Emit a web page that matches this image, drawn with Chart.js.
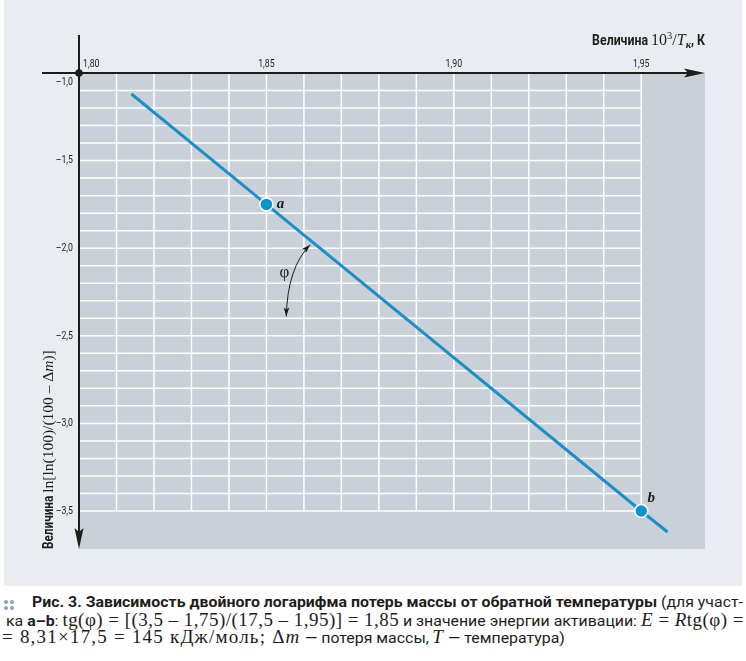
<!DOCTYPE html>
<html lang="ru">
<head>
<meta charset="utf-8">
<script src="https://cdn.jsdelivr.net/npm/chart.js@4.4.1/dist/chart.umd.min.js"></script>
<style>
  body { margin: 0; background: #fff; width: 746px; height: 661px; overflow: hidden; }
  #wrap { position: relative; width: 746px; height: 661px; }
  canvas { display: block; }
  .cap {
    position: absolute; white-space: nowrap;
    font-family: Roboto, 'Noto Sans', sans-serif; font-size: 15.5px; line-height: 17px; color: #1d1d1b;
  }
  .cap .n { display: inline-block; white-space: pre; }
  .cap .ni { display: inline-block; white-space: pre; transform-origin: 0 50%; }
  .cap .m { font-family: 'Liberation Serif', 'DejaVu Serif', serif; font-size: 19px; white-space: pre; }
  .cap b { font-weight: 700; }
  .dots { position: absolute; left: 4px; top: 600px; width: 10px; height: 10px; }
  .dots span { position: absolute; width: 4px; height: 4px; border-radius: 50%; background: #8aa1bf; }
</style>
</head>
<body>
<div id="wrap">
  <canvas id="chart" width="746" height="590"></canvas>
  <div class="dots"><span style="left:0;top:0"></span><span style="left:6px;top:0"></span><span style="left:0;top:6px"></span><span style="left:6px;top:6px"></span></div>
  <div class="cap" data-w="711" style="left:32px;top:594px"><span class="n"><b>Рис. 3. Зависимость двойного логарифма потерь массы от обратной температуры</b> (для участ-</span></div>
  <div class="cap" data-w="738" style="left:6px;top:611px"><span class="n">ка <b>a–b</b>: </span><span class="m">tg(φ) = [(3,5 – 1,75)/(17,5 – 1,95)] = 1,85</span><span class="n"> и значение энергии активации: </span><span class="m"><i>E</i> = <i>R</i>tg(φ) =</span></div>
  <div class="cap" data-w="563" style="left:2px;top:628px"><span class="m">= 8,31×17,5 = 145 кДж/моль; Δ<i>m</i></span><span class="n"> — потеря массы, </span><span class="m"><i>T</i></span><span class="n"> — температура)</span></div>
</div>
<script>
const lineX = [1.814, 1.85, 1.95, 1.957];
const lineY = [-1.12, -1.75, -3.5, -3.62];

const pointX = [1.85, 1.95];
const pointY = [-1.75, -3.5];
const pointNames = ['a', 'b'];

const xTickValues = [1.80, 1.85, 1.90, 1.95];
const xTickLabels = ['1,80', '1,85', '1,90', '1,95'];
const yTickValues = [-1.0, -1.5, -2.0, -2.5, -3.0, -3.5];
const yTickLabels = ['–1,0', '–1,5', '–2,0', '–2,5', '–3,0', '–3,5'];

const xGridValues = [1.81, 1.82, 1.83, 1.84, 1.85, 1.86, 1.87, 1.88, 1.89, 1.90, 1.91, 1.92, 1.93, 1.94, 1.95];
const yGridValues = [-1.1, -1.2, -1.3, -1.4, -1.5, -1.6, -1.7, -1.8, -1.9, -2.0, -2.1, -2.2, -2.3, -2.4,
  -2.5, -2.6, -2.7, -2.8, -2.9, -3.0, -3.1, -3.2, -3.3, -3.4, -3.5];

// angle mark: tip on the line, bezier control, lower tip, label position
const phiArc = { start: [1.8617, -1.98], control: [1.8556, -2.11], end: [1.8553, -2.39] };
const phiLabel = [1.8548, -2.14];

const SANS = "Roboto, 'Noto Sans', sans-serif";
const SERIF = "'Liberation Serif', 'DejaVu Serif', serif";
const INK = '#1d1d1b';
const NARROW = 0.76;

// caption: the sans runs are squeezed (first line sets the factor),
// serif runs get letter spacing so each line fills its measured width
const capLines = [...document.querySelectorAll('.cap')];
let squeeze = 1;
capLines.forEach((line, idx) => {
  const runs = [...line.querySelectorAll('.n')];
  const mathRuns = [...line.querySelectorAll('.m')];
  runs.forEach((r) => { r.innerHTML = `<span class="ni">${r.innerHTML}</span>`; });
  const total = line.getBoundingClientRect().width;
  const widths = runs.map((r) => r.firstChild.getBoundingClientRect().width);
  const sansW = widths.reduce((a, b) => a + b, 0);
  const target = Number(line.dataset.w);
  if (idx === 0) squeeze = (target - (total - sansW)) / sansW;
  runs.forEach((r, i) => {
    r.style.width = `${widths[i] * squeeze}px`;
    r.firstChild.style.transform = `scaleX(${squeeze})`;
  });
  if (mathRuns.length) {
    const mathW = total - sansW;
    const chars = mathRuns.reduce((a, m) => a + m.textContent.length, 0);
    const ls = (target - sansW * squeeze - mathW) / chars;
    mathRuns.forEach((m) => { m.style.letterSpacing = `${ls}px`; });
  }
});

function drawRich(ctx, parts, x, y, align) {
  let total = 0;
  parts.forEach((p) => {
    ctx.font = p.font;
    p.sx = p.sx || 1;
    p.w = ctx.measureText(p.text).width * p.sx;
    total += p.w;
  });
  let cx = align === 'right' ? x - total : x;
  ctx.textAlign = 'left';
  parts.forEach((p) => {
    ctx.font = p.font;
    ctx.save();
    ctx.translate(cx, y + (p.dy || 0));
    ctx.scale(p.sx, 1);
    ctx.fillText(p.text, 0, 0);
    ctx.restore();
    cx += p.w;
  });
}

function fillNarrow(ctx, text, x, y, align) {
  ctx.save();
  ctx.translate(x, y);
  ctx.scale(NARROW, 1);
  ctx.textAlign = align;
  ctx.fillText(text, 0, 0);
  ctx.restore();
}

function arrowHead(ctx, tip, dir, len, half, notch) {
  const ux = dir[0], uy = dir[1];
  const px = -uy, py = ux;
  ctx.beginPath();
  ctx.moveTo(tip[0], tip[1]);
  ctx.lineTo(tip[0] - ux * len + px * half, tip[1] - uy * len + py * half);
  ctx.lineTo(tip[0] - ux * (len - notch), tip[1] - uy * (len - notch));
  ctx.lineTo(tip[0] - ux * len - px * half, tip[1] - uy * len - py * half);
  ctx.closePath();
  ctx.fill();
}

const backgroundPlugin = {
  id: 'background',
  beforeDraw(chart) {
    const { ctx, chartArea, scales } = chart;
    ctx.save();
    ctx.fillStyle = '#ffffff';
    ctx.fillRect(0, 0, chart.width, chart.height);
    ctx.fillStyle = '#e9ecf1';
    ctx.fillRect(4, 0, 738, 586);
    ctx.fillStyle = '#c9d0d8';
    ctx.fillRect(chartArea.left, chartArea.top, chartArea.right - chartArea.left, chartArea.bottom - chartArea.top);

    const x0 = scales.x.getPixelForValue(xTickValues[0]);
    const x1 = scales.x.getPixelForValue(xGridValues[xGridValues.length - 1]);
    const y0 = scales.y.getPixelForValue(yTickValues[0]);
    const y1 = scales.y.getPixelForValue(yGridValues[yGridValues.length - 1]);
    ctx.strokeStyle = '#ffffff';
    ctx.lineWidth = 1.5;
    xGridValues.forEach((v) => {
      const px = scales.x.getPixelForValue(v);
      ctx.beginPath();
      ctx.moveTo(px, y0);
      ctx.lineTo(px, y1);
      ctx.stroke();
    });
    yGridValues.forEach((v) => {
      const py = scales.y.getPixelForValue(v);
      ctx.beginPath();
      ctx.moveTo(x0, py);
      ctx.lineTo(x1, py);
      ctx.stroke();
    });
    ctx.restore();
  },
};

const annotationPlugin = {
  id: 'annotations',
  afterDatasetsDraw(chart) {
    const { ctx, chartArea, scales } = chart;
    const ox = scales.x.getPixelForValue(xTickValues[0]);
    const oy = scales.y.getPixelForValue(yTickValues[0]);
    ctx.save();

    // axes with arrows
    ctx.strokeStyle = INK;
    ctx.fillStyle = INK;
    ctx.lineWidth = 2;
    ctx.beginPath();
    ctx.moveTo(42, oy);
    ctx.lineTo(chartArea.right - 8, oy);
    ctx.moveTo(ox, 35);
    ctx.lineTo(ox, chartArea.bottom - 8);
    ctx.stroke();
    arrowHead(ctx, [chartArea.right, oy], [1, 0], 21, 4.5, 4);
    arrowHead(ctx, [ox, chartArea.bottom], [0, 1], 21, 4.5, 4);
    ctx.beginPath();
    ctx.arc(ox, oy, 3.8, 0, Math.PI * 2);
    ctx.fill();

    // tick labels
    ctx.font = `11.5px ${SANS}`;
    ctx.textBaseline = 'alphabetic';
    xTickValues.forEach((v, i) => {
      const px = scales.x.getPixelForValue(v);
      fillNarrow(ctx, xTickLabels[i], i === 0 ? px + 4 : px, oy - 6, i === 0 ? 'left' : 'center');
    });
    ctx.textBaseline = 'middle';
    yTickValues.forEach((v, i) => {
      const py = scales.y.getPixelForValue(v);
      fillNarrow(ctx, yTickLabels[i], ox - 6, i === 0 ? py + 9 : py, 'right');
    });

    // axis titles
    ctx.textBaseline = 'alphabetic';
    drawRich(ctx, [
      { text: 'Величина ', font: `bold 14px ${SANS}`, sx: 0.88 },
      { text: '10', font: `16px ${SERIF}` },
      { text: '3', font: `10.5px ${SERIF}`, dy: -6 },
      { text: '/', font: `16px ${SERIF}` },
      { text: 'T', font: `italic 16px ${SERIF}` },
      { text: 'к', font: `italic bold 10.5px ${SERIF}`, dy: 3 },
      { text: ', К', font: `bold 14px ${SANS}`, sx: 0.88 },
    ], chartArea.right, 45, 'right');

    ctx.save();
    ctx.translate(53, chartArea.bottom);
    ctx.rotate(-Math.PI / 2);
    drawRich(ctx, [
      { text: 'Величина ', font: `bold 14px ${SANS}`, sx: 0.84 },
      { text: 'ln[ln(100)/(100 – Δ', font: `15.5px ${SERIF}` },
      { text: 'm', font: `italic 15.5px ${SERIF}` },
      { text: ')]', font: `15.5px ${SERIF}` },
    ], 0, 0, 'left');
    ctx.restore();

    // point names
    ctx.font = `bold italic 15px ${SERIF}`;
    ctx.textBaseline = 'middle';
    ctx.textAlign = 'center';
    pointNames.forEach((name, i) => {
      const px = scales.x.getPixelForValue(pointX[i]);
      const py = scales.y.getPixelForValue(pointY[i]);
      if (i === 0) ctx.fillText(name, px + 14, py);
      else ctx.fillText(name, px + 10, py - 13);
    });

    // angle phi
    const s = [scales.x.getPixelForValue(phiArc.start[0]), scales.y.getPixelForValue(phiArc.start[1])];
    const c = [scales.x.getPixelForValue(phiArc.control[0]), scales.y.getPixelForValue(phiArc.control[1])];
    const e = [scales.x.getPixelForValue(phiArc.end[0]), scales.y.getPixelForValue(phiArc.end[1])];
    ctx.lineWidth = 1;
    ctx.beginPath();
    ctx.moveTo(s[0], s[1]);
    ctx.quadraticCurveTo(c[0], c[1], e[0], e[1]);
    ctx.stroke();
    const norm = (a, b) => {
      const dx = a[0] - b[0], dy = a[1] - b[1];
      const l = Math.hypot(dx, dy);
      return [dx / l, dy / l];
    };
    arrowHead(ctx, s, norm(s, c), 9, 2.8, 2);
    arrowHead(ctx, e, norm(e, c), 9, 2.8, 2);
    ctx.font = `17px ${SERIF}`;
    ctx.fillText('φ', scales.x.getPixelForValue(phiLabel[0]), scales.y.getPixelForValue(phiLabel[1]));

    ctx.restore();
  },
};

const chart = new Chart(document.getElementById('chart').getContext('2d'), {
  type: 'scatter',
  data: {
    datasets: [
      {
        data: lineX.map((x, i) => ({ x, y: lineY[i] })),
        showLine: true,
        borderColor: '#1b90c8',
        borderWidth: 3,
        pointRadius: 0,
        order: 2,
      },
      {
        data: pointX.map((x, i) => ({ x, y: pointY[i] })),
        showLine: false,
        pointRadius: 6.5,
        pointBackgroundColor: '#0d93cd',
        pointBorderColor: '#ffffff',
        pointBorderWidth: 1.5,
        order: 1,
      },
    ],
  },
  options: {
    responsive: false,
    animation: false,
    layout: { padding: { left: 79, top: 73, right: 41, bottom: 41 } },
    plugins: { legend: { display: false }, tooltip: { enabled: false } },
    scales: {
      x: { type: 'linear', display: false, min: 1.80, max: 1.967 },
      y: { type: 'linear', display: false, min: -3.717, max: -1.0 },
    },
  },
  plugins: [backgroundPlugin, annotationPlugin],
});
</script>
</body>
</html>
